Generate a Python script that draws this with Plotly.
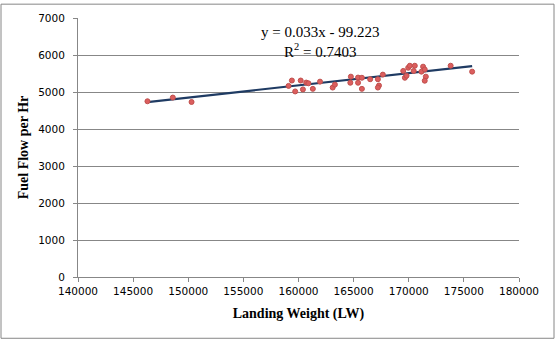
import plotly.graph_objects as go
import numpy as np

landing_weight = [146300, 148600, 150300, 159100, 159400, 159700, 160200, 160400,
                  160700, 160900, 161300, 161950, 163100, 163300, 164700, 164750,
                  165400, 165400, 165750, 165750, 166500, 167200, 167300, 167200,
                  167650, 169500, 169650, 169800, 169950, 170100, 170550, 170450,
                  171150, 171300, 171450, 171550, 171450, 173800, 175750]
fuel_flow = [4750, 4850, 4730, 5165, 5310, 5015, 5310, 5070,
             5255, 5235, 5085, 5280, 5120, 5200, 5250, 5415,
             5390, 5250, 5385, 5085, 5345, 5345, 5175, 5120,
             5470, 5570, 5385, 5440, 5655, 5710, 5710, 5570,
             5550, 5685, 5610, 5415, 5305, 5710, 5550]

slope = 0.033
intercept = -99.223
r_squared = 0.7403

x_ticks = [140000, 145000, 150000, 155000, 160000, 165000, 170000, 175000, 180000]
y_ticks = [0, 1000, 2000, 3000, 4000, 5000, 6000, 7000]

trend_x = [min(landing_weight), max(landing_weight)]
trend_y = [slope * v + intercept for v in trend_x]

grid = "#878787"

fig = go.Figure()
fig.add_trace(go.Scatter(
    x=trend_x, y=trend_y, mode="lines",
    line=dict(color="#1F3B63", width=2.2), showlegend=False, hoverinfo="skip"))
fig.add_trace(go.Scatter(
    x=landing_weight, y=fuel_flow, mode="markers",
    marker=dict(size=5, color="#DC5E5E", line=dict(color="#C0504D", width=1)),
    showlegend=False))

fig.add_annotation(
    x=0.548, y=0.906, xref="paper", yref="paper", xanchor="center", yanchor="middle",
    text=f"y = {slope}x - {abs(intercept)}<br>R<sup>2</sup> = {r_squared}",
    showarrow=False, align="center",
    font=dict(family="Liberation Serif", size=15, color="#000000"))

fig.add_shape(type="rect", xref="paper", yref="paper",
              x0=-0.1746, x1=1.0794, y0=-0.2366, y1=1.0534,
              line=dict(color="#868686", width=1), fillcolor="rgba(0,0,0,0)", layer="below")

fig.update_layout(
    width=560, height=343, autosize=False,
    margin=dict(l=78, r=41, t=15, b=66),
    paper_bgcolor="white", plot_bgcolor="white",
    font=dict(family="DejaVu Sans", size=10.5, color="#000000"),
    xaxis=dict(
        range=[140000, 180000], tickvals=x_ticks, ticktext=[str(v) for v in x_ticks],
        showgrid=False, zeroline=False, showline=True, linecolor=grid, linewidth=1,
        ticks="outside", ticklen=4, tickcolor=grid,
        title=dict(text="<b>Landing Weight (LW)</b>", standoff=12,
                   font=dict(family="Liberation Serif", size=14, color="#000000"))),
    yaxis=dict(
        range=[0, 7000], tickvals=y_ticks, ticktext=[str(v) for v in y_ticks],
        showgrid=True, gridcolor=grid, gridwidth=1, zeroline=False,
        showline=True, linecolor=grid, linewidth=1,
        ticks="outside", ticklen=4, tickcolor=grid, ticklabelstandoff=6,
        title=dict(text="<b>Fuel Flow per Hr</b>", standoff=6,
                   font=dict(family="Liberation Serif", size=14, color="#000000"))),
)

fig.write_html("out.html")
